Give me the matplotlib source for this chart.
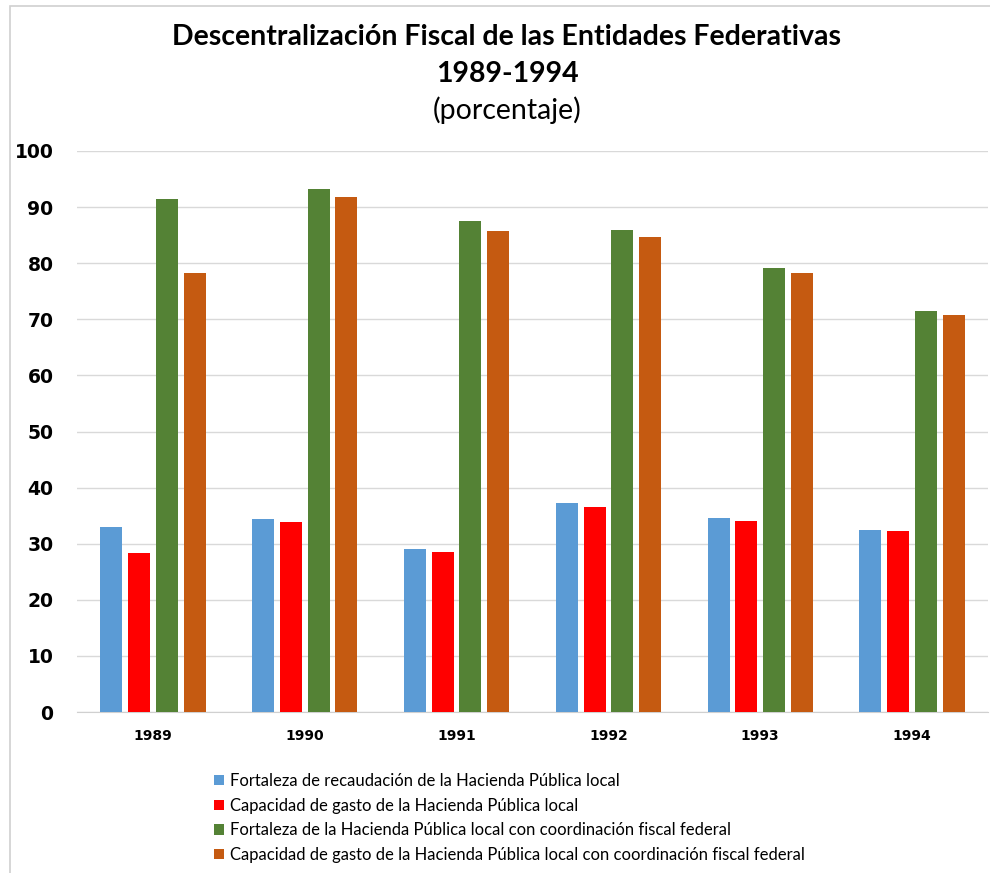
import numpy as np
import matplotlib.pyplot as plt
from matplotlib.patches import Rectangle

# data
years = ['1989', '1990', '1991', '1992', '1993', '1994']
fortaleza_local = [33.0, 34.4, 29.1, 37.2, 34.6, 32.5]
gasto_local = [28.3, 33.9, 28.5, 36.6, 34.1, 32.2]
fortaleza_coord = [91.5, 93.2, 87.5, 86.0, 79.1, 71.4]
gasto_coord = [78.3, 91.8, 85.7, 84.6, 78.2, 70.8]

labels = ['Fortaleza de recaudación de la Hacienda Pública local',
          'Capacidad de gasto de la Hacienda Pública local',
          'Fortaleza de la Hacienda Pública local con coordinación fiscal federal',
          'Capacidad de gasto de la Hacienda Pública local con coordinación fiscal federal']
colors = ['#5B9BD5', '#FF0000', '#548235', '#C55A11']
series = [fortaleza_local, gasto_local, fortaleza_coord, gasto_coord]

fig = plt.figure(figsize=(9.9, 8.73), dpi=100)
W, H = 990, 873

# light frame around the picture (left and top edges)
fig.patches.append(Rectangle((10 / W, -0.1), 1.2, (873 - 6) / H + 0.1, transform=fig.transFigure,
                             fill=False, edgecolor='#d0d0d0', linewidth=1.2))

ax = fig.add_axes([77 / W, (H - 712) / H, 911 / W, (712 - 151) / H])

x = np.arange(len(years))
step = 0.183
width = 0.145
for i, (vals, c, lab) in enumerate(zip(series, colors, labels)):
    ax.bar(x + (i - 1.5) * step, vals, width, color=c, label=lab, zorder=3)

ax.set_xlim(-0.5, len(years) - 0.5)
ax.set_ylim(0, 100)
ax.set_yticks(range(0, 101, 10))
ax.set_xticks(x)
ax.set_xticklabels(years)
ax.grid(axis='y', color='#d9d9d9', linewidth=1, zorder=0)
for s in ['top', 'right', 'left']:
    ax.spines[s].set_visible(False)
ax.spines['bottom'].set_color('#d0d0d0')
ax.tick_params(axis='both', length=0)
ax.tick_params(axis='y', pad=17)
ax.tick_params(axis='x', pad=12)
for t in ax.get_yticklabels():
    t.set_fontfamily('DejaVu Sans')
    t.set_fontweight('bold')
    t.set_fontsize(13.5)
for t in ax.get_xticklabels():
    t.set_fontfamily('DejaVu Sans')
    t.set_fontweight('bold')
    t.set_fontsize(10)

fig.text(507 / W, 1 - 37 / H, 'Descentralización Fiscal de las Entidades Federativas',
         ha='center', va='center', fontsize=20.5, fontweight='bold', family='Lato')
fig.text(507 / W, 1 - 74 / H, '1989-1994', ha='center', va='center',
         fontsize=20.5, fontweight='bold', family='Lato')
fig.text(507 / W, 1 - 110 / H, '(porcentaje)', ha='center', va='center',
         fontsize=20.5, family='Lato')

leg = fig.legend(loc='upper left', bbox_to_anchor=(199 / W, 1 - 758 / H), frameon=False,
                 prop={'family': 'Lato', 'size': 12}, handlelength=0.6, handleheight=0.6,
                 handletextpad=0.35, labelspacing=0.52)

fig.savefig('out.png', dpi=100)
